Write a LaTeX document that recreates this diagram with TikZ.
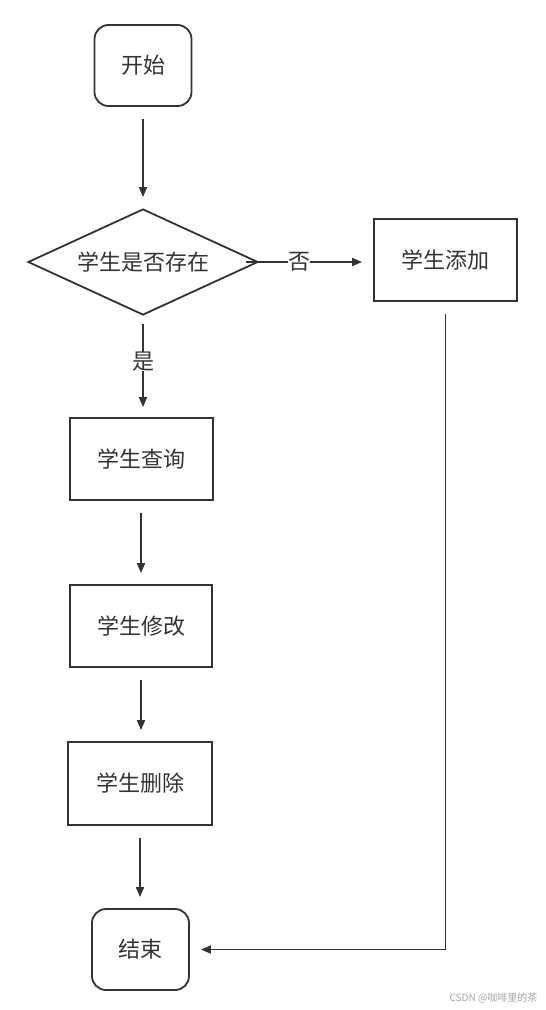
\documentclass[tikz,border=0pt]{standalone}
\usepackage{fontspec}
\newfontfamily\cjk{Noto Sans CJK SC}
\usetikzlibrary{shapes.geometric,arrows.meta}
\definecolor{ink}{HTML}{333333}
\tikzset{
    term/.style={draw=ink, line width=1.8pt, rounded corners=14pt, minimum width=97pt, minimum height=81pt},
    procbox/.style={draw=ink, line width=1.8pt, minimum width=143pt, minimum height=82pt},
    choice/.style={draw=ink, line width=1.8pt, diamond, aspect=2.17, minimum width=230pt, minimum height=106pt, inner sep=0pt},
    flow/.style={draw=ink, line width=1.8pt, -{Triangle[length=10pt,width=8pt]}, shorten <=12pt, shorten >=11pt},
    tag/.style={fill=white, inner sep=1pt, text=ink}
}
\begin{document}
\begin{tikzpicture}[x=1pt, y=-1pt, font=\cjk\fontsize{22}{26}\selectfont, text=ink]
    \useasboundingbox[fill=white] (0,0) rectangle (546,1010);
    \node[term] (start) at (143,65.5) {开始};
    \node[choice] (check) at (143,262) {学生是否存在};
    \node[procbox] (add) at (445.5,260) {学生添加};
    \node[procbox] (query) at (141.5,459) {学生查询};
    \node[procbox, minimum width=142pt] (modify) at (141,626) {学生修改};
    \node[procbox, minimum width=144pt, minimum height=83pt] (delete) at (140,783.5) {学生删除};
    \node[term] (end) at (140.5,949.5) {结束};
    % arrows
    \draw[flow] (start) -- (check);
    \draw[flow, shorten <=0pt] ([xshift=-13pt]check.east) -- (check.east -| add.west) node[tag, pos=0.42, inner sep=0pt] {否};
    \draw[flow, shorten <=8pt, shorten >=10pt] (check.south) -- (check.south |- query.north) node[tag, pos=0.45, inner sep=0pt] {是};
    \draw[flow] (modify.north |- query.south) -- (modify.north);
    \draw[flow] (modify.south) -- (modify.south |- delete.north);
    \draw[flow] (delete) -- (delete |- end.north);
    \draw[flow] (add.south) |- (end.east);
    % watermark
    \node[anchor=east, text=black!35, font=\cjk\fontsize{10}{11}\selectfont] (mark) at (541,998) {CSDN @咖啡里的茶};
\end{tikzpicture}
\end{document}
